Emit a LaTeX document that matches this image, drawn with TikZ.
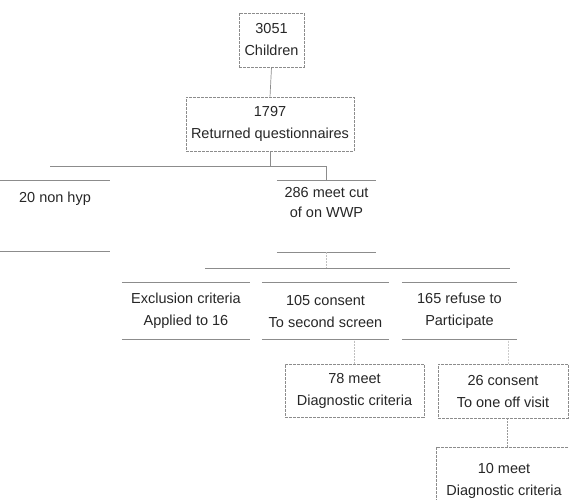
\documentclass[tikz,border=0pt]{standalone}
\usepackage{fontspec}
\setmainfont{Liberation Sans}
\begin{document}
\begin{tikzpicture}[x=1pt,y=-1pt,
  ln/.style={draw=black!45,line width=0.7pt},
  side/.style={draw=black!40,line width=0.6pt,dash pattern=on 2pt off 1pt},
  txt/.style={align=center,font=\fontsize{14.5pt}{22pt}\selectfont,text=black!85,inner sep=0pt},
  fullbox/.style={txt,draw=black!45,line width=0.6pt,dash pattern=on 3pt off 1pt},
  openbox/.style={txt}]
\useasboundingbox (0,0) rectangle (569,499);
% top boxes
\node[fullbox,minimum width=65,minimum height=54] (c3051) at (271.5,40) {3051\\Children};
\node[fullbox,minimum width=168,minimum height=54] (r1797) at (270,124) {1797\\Returned questionnaires};
% second level (open boxes)
\node[openbox,minimum width=110,minimum height=70] (nonhyp) at (55,216) {};
\node[txt,anchor=north] at ([yshift=-11]nonhyp.north) {20 non hyp};
\node[openbox,minimum width=99,minimum height=71] (cut) at (326.5,216.5) {};
\node[txt,anchor=north,font=\fontsize{14.5pt}{20pt}\selectfont] at ([yshift=-6]cut.north) {286 meet cut\\of on WWP};
\foreach \n in {nonhyp,cut}{
  \draw[ln] (\n.north west) -- (\n.north east) (\n.south west) -- (\n.south east);}
% third level
\node[openbox,minimum width=128,minimum height=57] (excl) at (186,311) {Exclusion criteria\\Applied to 16};
\node[openbox,minimum width=127,minimum height=57] (c105) at (325.5,311) {105 consent\\To second screen};
\node[openbox,minimum width=115,minimum height=57] (r165) at (459.5,311) {165 refuse to\\Participate};
\foreach \n in {excl,c105,r165}{
  \draw[ln] (\n.north west) -- (\n.north east) (\n.south west) -- (\n.south east);}
% lower boxes
\node[fullbox,minimum width=139,minimum height=53] (m78) at (354.5,390.5) {78 meet\\Diagnostic criteria};
\node[fullbox,minimum width=130,minimum height=54] (c26) at (503,391) {26 consent\\To one off visit};
\node[fullbox,minimum width=136,minimum height=68] (m10) at (504,481) {10 meet\\Diagnostic criteria};
% connectors
\coordinate (busL) at (50,166);
\draw[ln] (c3051.south) -- (r1797.north);
\draw[ln] (r1797.south) -- (r1797.south |- busL);
\draw[ln] (busL) -| (cut.north);
\coordinate (bus2L) at (205,268);
\coordinate (bus2R) at (510,268);
\draw[ln] (bus2L) -- (bus2R);
\draw[side,draw=black!25] (cut.south) -- (cut.south |- bus2L);
\draw[side,draw=black!25] (m78.north) -- (m78.north |- c105.south);
\draw[side,draw=black!20] ([xshift=5]c26.north) -- ([xshift=5]c26.north |- r165.south);
\draw[side] ([xshift=4]c26.south) -- ([xshift=4]c26.south |- m10.north);
\end{tikzpicture}
\end{document}
